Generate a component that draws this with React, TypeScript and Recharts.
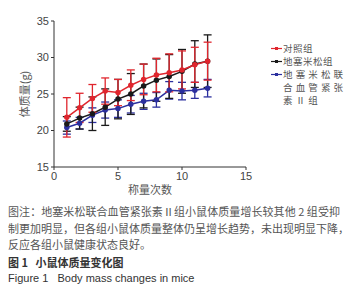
import { ErrorBar, Line, LineChart, XAxis, YAxis } from 'recharts';

const weighings = [1, 2, 3, 4, 5, 6, 7, 8, 9, 10, 11, 12];
const controlMean = [21.8, 23.1, 24.4, 25.4, 25.2, 26.2, 27.0, 27.6, 27.9, 28.3, 29.0, 29.5];
const controlSd = [2.7, 2.0, 1.9, 1.8, 1.8, 2.1, 2.1, 2.3, 2.6, 2.6, 2.4, 2.6];
const dexMean = [20.9, 21.7, 22.3, 23.2, 24.3, 25.0, 26.1, 26.9, 27.4, 28.1, 29.1, 29.5];
const dexSd = [1.0, 1.5, 2.3, 2.5, 2.7, 2.8, 3.0, 2.9, 3.0, 3.0, 3.2, 3.6];
const comboMean = [20.4, 21.0, 22.1, 22.8, 23.0, 23.6, 24.0, 24.2, 25.5, 25.4, 25.5, 25.8];
const comboSd = [0.9, 0.8, 1.0, 1.1, 1.2, 1.2, 1.1, 1.0, 1.2, 1.2, 1.1, 1.2];

const xTicks = [0, 5, 10, 15];
const yTicks = [15, 20, 25, 30, 35];

// drawn back to front: blue, black, red
const series = [
    { key: 'combo', name: '地塞米松联合血管紧张素Ⅱ组', color: '#2b2f9e' },
    { key: 'dex', name: '地塞米松组', color: '#1a1a1a' },
    { key: 'control', name: '对照组', color: '#e0262e' },
];

const legendRows = [
    { color: '#e0262e', lines: ['对照组'] },
    { color: '#1a1a1a', lines: ['地塞米松组'] },
    { color: '#2b2f9e', lines: ['地 塞 米 松 联', '合 血 管 紧 张', '素 Ⅱ 组'] },
];

const data = weighings.map((x, i) => ({
    x,
    control: controlMean[i],
    controlErr: controlSd[i],
    dex: dexMean[i],
    dexErr: dexSd[i],
    combo: comboMean[i],
    comboErr: comboSd[i],
}));

const axisText = { fontFamily: 'Arial, "Liberation Sans", sans-serif', fontSize: 11, fill: '#444' };
const cjkLabel = { ...axisText, fontFamily: '"Noto Sans CJK SC", sans-serif', fill: '#555' };

const ROW = 13;

function LegendBox() {
    return (
        <div style={{ position: 'absolute', left: 271, top: 42, fontFamily: '"Noto Sans CJK SC", sans-serif', fontSize: 9.5, color: '#555' }}>
            {legendRows.map((r) => (
                <div key={r.lines[0]} style={{ display: 'flex', alignItems: 'flex-start' }}>
                    <svg width={12} height={ROW} style={{ flex: 'none' }}>
                        <line x1={0} y1={ROW / 2} x2={11} y2={ROW / 2} stroke={r.color} strokeWidth={1.2} />
                        <rect x={4} y={ROW / 2 - 1.5} width={3} height={3} fill={r.color} />
                    </svg>
                    <div>
                        {r.lines.map((l) => (
                            <div key={l} style={{ whiteSpace: 'pre', height: ROW, lineHeight: `${ROW}px`, letterSpacing: 0.5 }}>{l}</div>
                        ))}
                    </div>
                </div>
            ))}
        </div>
    );
}

const capLine = { width: 332, textAlign: 'justify' as const, textAlignLast: 'justify' as const, whiteSpace: 'nowrap' as const };

export default function App() {
    return (
        <div style={{ position: 'absolute', left: 0, top: 0, width: 361, height: 300, background: '#fff' }}>
            <LineChart width={361} height={200} data={data} margin={{ top: 21, right: 115, bottom: 3, left: 10 }}>
                <XAxis
                    dataKey="x"
                    type="number"
                    domain={[0, 15]}
                    ticks={xTicks}
                    tick={axisText}
                    tickSize={3}
                    stroke="#333"
                    height={30}
                    label={{ value: '称量次数', position: 'insideBottom', offset: 3, style: cjkLabel }}
                />
                <YAxis
                    type="number"
                    domain={[15, 35]}
                    ticks={yTicks}
                    tick={axisText}
                    tickSize={3}
                    stroke="#333"
                    width={44}
                    label={{ value: '体质量(g)', angle: -90, position: 'insideLeft', offset: 15, style: { ...cjkLabel, textAnchor: 'middle' } }}
                />
                {series.map((s) => (
                    <Line
                        key={s.key}
                        dataKey={s.key}
                        name={s.name}
                        stroke={s.color}
                        strokeWidth={1.5}
                        dot={{ r: 2, fill: s.color, stroke: s.color }}
                        isAnimationActive={false}
                    >
                        <ErrorBar dataKey={`${s.key}Err`} direction="y" width={4} stroke={s.color} strokeWidth={1.3} />
                    </Line>
                ))}
            </LineChart>
            <LegendBox />
            <div style={{ position: 'absolute', left: 8, top: 203, fontFamily: '"Noto Sans CJK SC", sans-serif', fontSize: 11, lineHeight: '16.5px', color: '#555' }}>
                <div style={capLine}>图注：地塞米松联合血管紧张素Ⅱ组小鼠体质量增长较其他 2 组受抑</div>
                <div style={capLine}>制更加明显，但各组小鼠体质量整体仍呈增长趋势，未出现明显下降，</div>
                <div>反应各组小鼠健康状态良好。</div>
                <div style={{ fontWeight: 'bold', color: '#333', marginTop: 1 }}>图 1&nbsp;&nbsp;&nbsp;小鼠体质量变化图</div>
                <div style={{ fontFamily: 'Arial, "Liberation Sans", sans-serif', color: '#333' }}>Figure 1&nbsp;&nbsp;&nbsp;Body mass changes in mice</div>
            </div>
        </div>
    );
}
